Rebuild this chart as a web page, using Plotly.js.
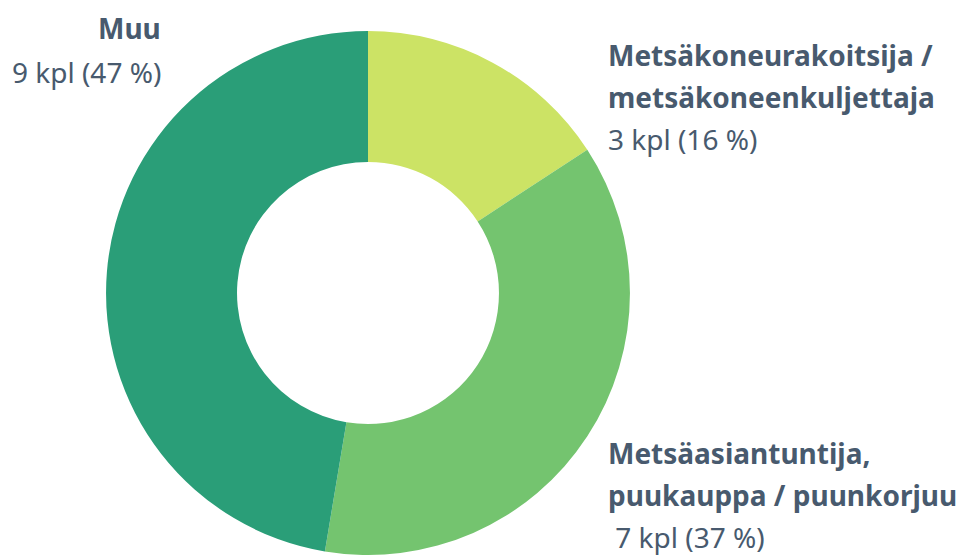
<!DOCTYPE html>
<html><head><meta charset="utf-8">
<script src="https://cdn.plot.ly/plotly-3.0.1.min.js"></script>
<style>html,body{margin:0;padding:0;background:#fff}</style>
</head><body><div id="chart" style="width:959px;height:555px"></div>
<script>
const categories = ["Metsäkoneurakoitsija / metsäkoneenkuljettaja", "Metsäasiantuntija, puukauppa / puunkorjuu", "Muu"];
const values = [3, 7, 9];
const percents = [16, 37, 47];
const colors = ["#cce365", "#74c46f", "#2a9e78"];
const labelLines = [["Metsäkoneurakoitsija /", "metsäkoneenkuljettaja"], ["Metsäasiantuntija,", "puukauppa / puunkorjuu"], ["Muu"]];

const W = 959, H = 555;
const txtColor = "#485a6e";
const fontFam = "'Noto Sans', sans-serif";
const FS = 28;

// label anchor positions in pixels: [x, firstLineY, xanchor, valuePrefix]
const anchors = [[606, 55, "left", ""], [606, 453, "left", " "], [163, 28, "right", ""]];
const annotations = [];
categories.forEach((c, i) => {
  const [ax, ay, xa, pre] = anchors[i];
  const lines = labelLines[i].map(l => "<b>" + l + "</b>");
  lines.push(pre + values[i] + " kpl (" + percents[i] + " %)");
  lines.forEach((t, j) => {
    annotations.push({
      xref: "paper", yref: "paper", x: ax / W, y: 1 - (ay + (i === 2 ? 44 : 42) * j) / H,
      xanchor: xa, yanchor: "middle", text: t, showarrow: false,
      font: {family: fontFam, size: FS, color: txtColor}
    });
  });
});

const data = [{
  type: "pie", labels: categories, values: values, hole: 0.5, sort: false,
  direction: "clockwise", rotation: 0, textinfo: "none", hoverinfo: "none",
  marker: {colors: colors, line: {width: 0}},
  domain: {x: [(368 - 262) / W, (368 + 262) / W], y: [0, 0.944]}
}];
const layout = {
  width: W, height: H, margin: {l: 0, r: 0, t: 0, b: 0},
  showlegend: false, paper_bgcolor: "#fff", annotations: annotations
};
Plotly.newPlot("chart", data, layout, {displayModeBar: false, staticPlot: true});
</script></body></html>
